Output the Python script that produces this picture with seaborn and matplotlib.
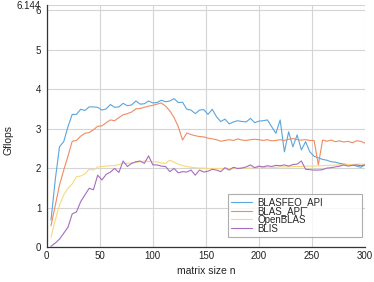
import numpy as np
import pandas as pd
import matplotlib
matplotlib.use("Agg")
import matplotlib.pyplot as plt
import seaborn as sns

n = list(range(4, 301, 4))

blasfeo_api = [0.68, 1.7, 2.54, 2.67, 3.05, 3.36, 3.36, 3.49, 3.46, 3.55, 3.55, 3.54, 3.47, 3.5, 3.61,
               3.54, 3.55, 3.64, 3.58, 3.6, 3.7, 3.62, 3.63, 3.7, 3.65, 3.66, 3.72, 3.68, 3.7, 3.76,
               3.66, 3.67, 3.49, 3.47, 3.38, 3.47, 3.48, 3.36, 3.49, 3.3, 3.18, 3.24, 3.12, 3.17, 3.2,
               3.18, 3.17, 3.26, 3.15, 3.19, 3.2, 3.22, 3.05, 2.88, 3.22, 2.41, 2.92, 2.54, 2.84, 2.46,
               2.67, 2.41, 2.3, 2.26, 2.22, 2.2, 2.16, 2.15, 2.12, 2.1, 2.09, 2.08, 2.05, 2.02, 2.08]

blas_api = [0.54, 1.05, 1.57, 1.95, 2.3, 2.68, 2.7, 2.81, 2.88, 2.9, 2.97, 3.06, 3.07, 3.15, 3.22,
            3.2, 3.28, 3.35, 3.38, 3.42, 3.5, 3.51, 3.54, 3.57, 3.59, 3.62, 3.65, 3.57, 3.45, 3.28,
            3.05, 2.71, 2.89, 2.85, 2.82, 2.8, 2.79, 2.76, 2.74, 2.72, 2.68, 2.7, 2.72, 2.7, 2.74,
            2.71, 2.7, 2.72, 2.73, 2.72, 2.7, 2.72, 2.69, 2.7, 2.72, 2.7, 2.73, 2.75, 2.72, 2.71,
            2.72, 2.7, 2.7, 2.08, 2.71, 2.68, 2.71, 2.67, 2.69, 2.66, 2.68, 2.64, 2.69, 2.68, 2.63]

openblas = [0.25, 0.68, 1.06, 1.32, 1.49, 1.6, 1.78, 1.8, 1.85, 1.97, 1.95, 2.03, 2.04, 2.05, 2.06,
            2.06, 2.09, 2.12, 2.12, 2.13, 2.14, 2.16, 2.18, 2.17, 2.16, 2.16, 2.13, 2.12, 2.2, 2.15,
            2.1, 2.06, 2.04, 2.02, 2.01, 2.0, 2.0, 1.99, 1.99, 1.99, 1.99, 1.99, 1.99, 1.99, 1.99,
            2.0, 2.0, 2.0, 2.01, 2.01, 2.01, 2.02, 2.02, 2.02, 2.03, 2.03, 2.03, 2.04, 2.04, 2.04,
            2.05, 2.05, 2.05, 2.06, 2.06, 2.07, 2.07, 2.08, 2.08, 2.08, 2.09, 2.09, 2.1, 2.1, 2.1]

blis = [0.02, 0.1, 0.2, 0.35, 0.5, 0.84, 0.89, 1.15, 1.32, 1.49, 1.45, 1.82, 1.7, 1.84, 1.9,
        1.99, 1.89, 2.18, 2.04, 2.12, 2.16, 2.18, 2.12, 2.31, 2.08, 2.08, 2.05, 2.04, 1.91, 1.99,
        1.88, 1.91, 1.9, 1.95, 1.82, 1.95, 1.9, 1.92, 1.97, 1.95, 1.91, 2.01, 1.95, 2.02, 1.99,
        2.0, 2.03, 2.08, 2.01, 2.05, 2.03, 2.06, 2.04, 2.07, 2.06, 2.08, 2.05, 2.09, 2.1, 2.18,
        1.97, 1.96, 1.95, 1.95, 1.96, 2.0, 2.01, 2.03, 2.05, 2.08, 2.05, 2.07, 2.08, 2.06, 2.08]

series_names = ["BLASFEO_API", "BLAS_API", "OpenBLAS", "BLIS"]
colors = ["#5aa5dc", "#f08a62", "#fad77f", "#a66cbf"]
x_ticks = [0, 50, 100, 150, 200, 250, 300]
y_ticks = [0, 1, 2, 3, 4, 5, 6, 6.144]
y_tick_labels = ["0", "1", "2", "3", "4", "5", "6", "6.144"]

df = pd.concat([
    pd.DataFrame({"n": n, "Gflops": vals, "lib": name})
    for name, vals in zip(series_names, [blasfeo_api, blas_api, openblas, blis])
])

sns.set_theme(style="white")
plt.rcParams["font.family"] = ["Liberation Sans", "DejaVu Sans"]

fig = plt.figure(figsize=(3.74, 2.82), dpi=100)
ax = fig.add_axes([0.125, 0.124, 0.851, 0.86])

sns.lineplot(data=df, x="n", y="Gflops", hue="lib", hue_order=series_names,
             palette=colors, linewidth=0.8, ax=ax, legend=True)

ax.set_xlim(0, 300)
ax.set_ylim(0, 6.144)
ax.set_xticks(x_ticks)
ax.set_xticklabels([str(t) for t in x_ticks])
ax.set_yticks(y_ticks)
ax.set_yticklabels(y_tick_labels)
ax.grid(True, color="#d4d4d4", linewidth=0.8)
ax.set_axisbelow(True)
for s in ["top", "right"]:
    ax.spines[s].set_visible(False)
for s in ["left", "bottom"]:
    ax.spines[s].set_color("#333333")
    ax.spines[s].set_linewidth(0.9)
ax.tick_params(axis="both", direction="in", length=7, width=0.9, color="#444444",
               labelsize=7, labelcolor="#222222", pad=3)
ax.tick_params(axis="y", pad=4)
ax.set_xlabel("matrix size n", fontsize=7.5, color="#222222")
ax.set_ylabel("Gflops", fontsize=7.5, color="#222222")
ax.xaxis.set_label_coords(0.5, -0.08)
ax.yaxis.set_label_coords(-0.106, 0.44)

leg = ax.legend(loc="lower left", bbox_to_anchor=(0.5696, 0.041, 0.421, 0.173),
                mode="expand", fontsize=7,
                frameon=True, fancybox=False, handlelength=2.1, handletextpad=0.55,
                labelspacing=-0.12, borderpad=0.35, borderaxespad=0)
leg.get_frame().set_edgecolor("#999999")
leg.get_frame().set_linewidth(0.8)
for line in leg.get_lines():
    line.set_linewidth(0.8)

fig.savefig("out.png", dpi=100)
